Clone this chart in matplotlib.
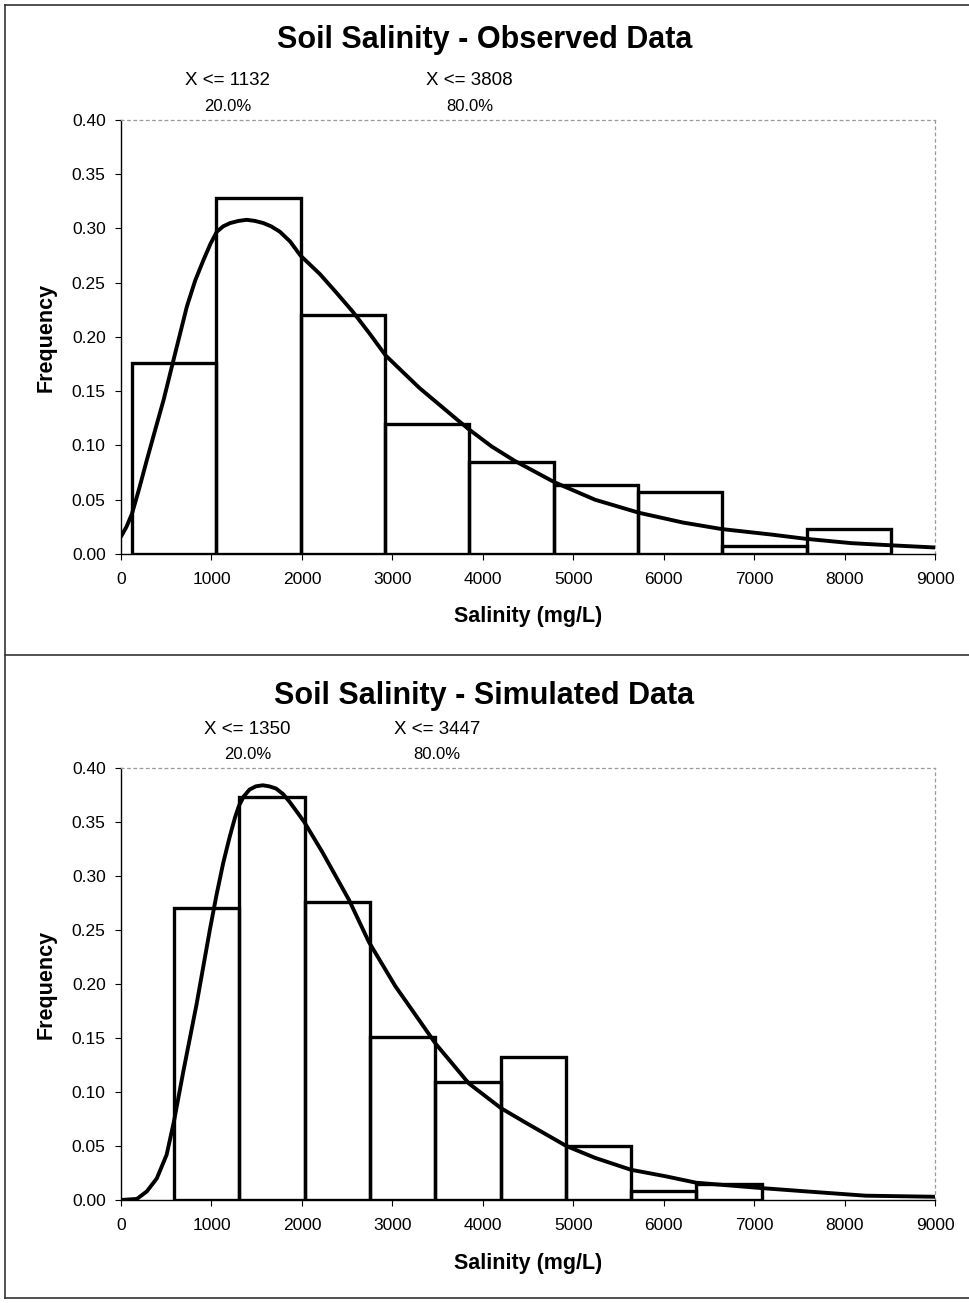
import matplotlib
matplotlib.use("Agg")
import matplotlib.pyplot as plt
from matplotlib.lines import Line2D
from matplotlib.transforms import blended_transform_factory, offset_copy

plt.rcParams['font.family'] = ['Liberation Sans', 'DejaVu Sans']

# ---- Observed data ----
obs_edges = [120, 1053, 1986, 2918, 3851, 4784, 5716, 6649, 7582, 8515]
obs_freq = [0.176, 0.328, 0.220, 0.120, 0.085, 0.064, 0.057, 0.007, 0.023]
obs_curve_x = [0, 60, 121, 200, 287, 380, 471, 581, 728, 820, 912, 990, 1059, 1130, 1206, 1300,
               1390, 1480, 1574, 1660, 1757, 1870, 1985, 2199, 2380, 2566, 2750, 2926, 3100,
               3300, 3500, 3700, 3845, 4100, 4350, 4796, 5242, 5727, 6213, 6640, 7183, 7571,
               8076, 8515, 9000]
obs_curve_y = [0.016, 0.025, 0.037, 0.060, 0.087, 0.115, 0.142, 0.179, 0.228, 0.252, 0.271, 0.286,
               0.297, 0.302, 0.305, 0.307, 0.308, 0.307, 0.305, 0.302, 0.297, 0.288, 0.275,
               0.258, 0.241, 0.223, 0.203, 0.183, 0.169, 0.153, 0.139, 0.125, 0.115, 0.099,
               0.086, 0.066, 0.050, 0.038, 0.029, 0.023, 0.018, 0.014, 0.010, 0.008, 0.006]
obs_pct_values = [1132, 3808]
obs_pct_labels = ["20.0%", "80.0%"]

# ---- Simulated data ----
sim_edges = [586, 1308, 2030, 2752, 3474, 4196, 4918, 5640, 6362, 7084]
sim_freq = [0.270, 0.373, 0.276, 0.151, 0.109, 0.132, 0.050, 0.008, 0.015]
sim_curve_x = [0, 176, 286, 396, 505, 586, 689, 835, 982, 1055, 1130, 1201, 1260, 1304, 1360,
               1421, 1490, 1568, 1640, 1714, 1790, 1861, 1940, 2026, 2227, 2520, 2740, 3033,
               3301, 3476, 3845, 4202, 4466, 4924, 5242, 5638, 6019, 6360, 6795, 7086, 7571,
               8231, 9000]
sim_curve_y = [0.000, 0.001, 0.008, 0.020, 0.042, 0.073, 0.119, 0.181, 0.250, 0.282, 0.312,
               0.336, 0.354, 0.365, 0.374, 0.380, 0.383, 0.384, 0.383, 0.381, 0.376, 0.369,
               0.360, 0.350, 0.322, 0.278, 0.239, 0.198, 0.166, 0.145, 0.108, 0.085, 0.072,
               0.050, 0.039, 0.028, 0.022, 0.016, 0.013, 0.011, 0.008, 0.004, 0.003]
sim_pct_values = [1350, 3447]
sim_pct_labels = ["20.0%", "80.0%"]

x_ticks = [0, 1000, 2000, 3000, 4000, 5000, 6000, 7000, 8000, 9000]
y_ticks = [0.00, 0.05, 0.10, 0.15, 0.20, 0.25, 0.30, 0.35, 0.40]

W, H = 969, 1303
fig = plt.figure(figsize=(W / 100, H / 100), dpi=100)


def panel(rect, title, title_y, edges, freq, cx, cy, pct_vals, pct_labels):
    ax = fig.add_axes(rect)
    widths = [edges[i + 1] - edges[i] for i in range(len(freq))]
    ax.bar(edges[:-1], freq, width=widths, align='edge', facecolor='none',
           edgecolor='black', linewidth=2.4, zorder=2)
    ax.plot(cx, cy, color='black', linewidth=2.8, solid_capstyle='round',
            solid_joinstyle='round', zorder=3)
    ax.set_xlim(0, 9000)
    ax.set_ylim(0, 0.40)
    ax.set_xticks(x_ticks)
    ax.set_xticklabels([str(v) for v in x_ticks])
    ax.set_yticks(y_ticks)
    ax.set_yticklabels([f"{v:.2f}" for v in y_ticks])
    ax.tick_params(axis='both', direction='out', length=4, width=0.8, labelsize=12.5)
    ax.tick_params(axis='x', pad=9)
    ax.tick_params(axis='y', pad=7)
    for s in ('left', 'bottom'):
        ax.spines[s].set_color('black')
        ax.spines[s].set_linewidth(1.0)
    for s in ('top', 'right'):
        ax.spines[s].set_color('#9a9a9a')
        ax.spines[s].set_linewidth(0.9)
        ax.spines[s].set_linestyle((0, (2, 3)))
    ax.set_xlabel("Salinity (mg/L)", fontsize=15.5, fontweight='bold', labelpad=14)
    ax.set_ylabel("Frequency", fontsize=15.5, fontweight='bold')
    ax.yaxis.set_label_coords(-0.079, 0.5)

    trans = blended_transform_factory(ax.transData, ax.transAxes)
    trans = offset_copy(trans, fig=fig, x=3, y=0, units='points')
    for v, lab in zip(pct_vals, pct_labels):
        ax.text(v, 1.090, f"X <= {v}", transform=trans, ha='center', va='center',
                fontsize=13.5)
        ax.text(v, 1.032, lab, transform=trans, ha='center', va='center',
                fontsize=12)
    fig.text(0.5, title_y, title, ha='center', va='center', fontsize=22,
             fontweight='bold')
    return ax


left = 121 / W
width = (935 - 121) / W
panel([left, 1 - 554 / H, width, (554 - 120) / H], "Soil Salinity - Observed Data",
      1 - 40 / H, obs_edges, obs_freq, obs_curve_x, obs_curve_y,
      obs_pct_values, obs_pct_labels)
panel([left, 1 - 1200 / H, width, (1200 - 768) / H], "Soil Salinity - Simulated Data",
      1 - 696 / H, sim_edges, sim_freq, sim_curve_x, sim_curve_y,
      sim_pct_values, sim_pct_labels)

# frame lines around and between the two panels
frame_kw = dict(color='#333333', linewidth=1.2, transform=fig.transFigure)
fig.add_artist(Line2D([5 / W, 5 / W], [1 - 5 / H, 1 - 1298 / H], **frame_kw))
for yy in (5, 655, 1298):
    fig.add_artist(Line2D([5 / W, 1.0], [1 - yy / H, 1 - yy / H], **frame_kw))

fig.savefig("out.png", dpi=100, facecolor='white')
